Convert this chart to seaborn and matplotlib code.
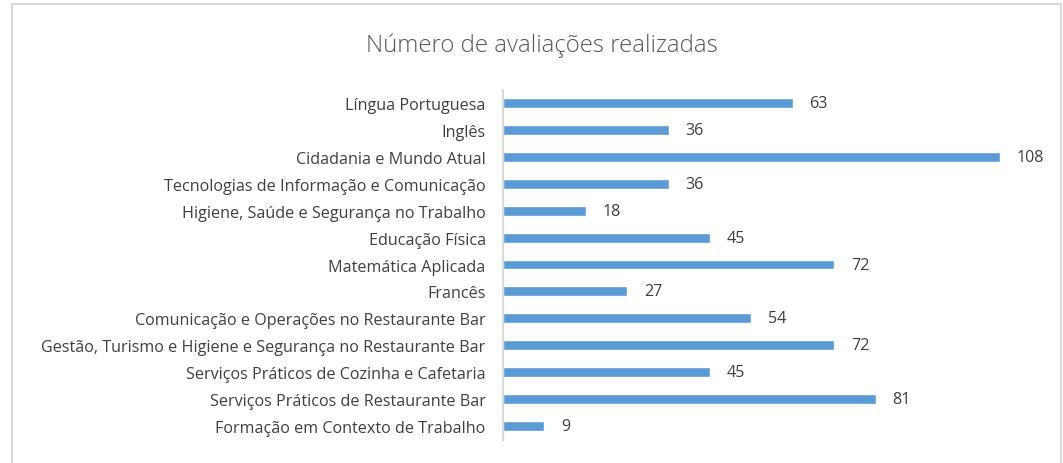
import matplotlib
matplotlib.use("Agg")
import matplotlib.pyplot as plt
from matplotlib.patches import Rectangle
import seaborn as sns
import pandas as pd

disciplinas = [
    "Língua Portuguesa",
    "Inglês",
    "Cidadania e Mundo Atual",
    "Tecnologias de Informação e Comunicação",
    "Higiene, Saúde e Segurança no Trabalho",
    "Educação Física",
    "Matemática Aplicada",
    "Francês",
    "Comunicação e Operações no Restaurante Bar",
    "Gestão, Turismo e Higiene e Segurança no Restaurante Bar",
    "Serviços Práticos de Cozinha e Cafetaria",
    "Serviços Práticos de Restaurante Bar",
    "Formação em Contexto de Trabalho",
]
avaliacoes = [63, 36, 108, 36, 18, 45, 72, 27, 54, 72, 45, 81, 9]

titulo = "Número de avaliações realizadas"

df = pd.DataFrame({"disciplina": disciplinas, "avaliacoes": avaliacoes})

sns.set_style("white")
plt.rcParams["font.family"] = ["Open Sans", "DejaVu Sans"]

W, H = 1063, 464
fig = plt.figure(figsize=(W / 100, H / 100), dpi=100)
ax = fig.add_axes([503 / W, 1 - 440.5 / H, (1055 - 503) / W, (440.5 - 90.5) / H])

sns.barplot(data=df, x="avaliacoes", y="disciplina", orient="h",
            color="#5B9BD5", saturation=1, width=0.37, ax=ax)

ax.set_xlim(0, 120)
ax.set_ylim(len(disciplinas) - 0.5, -0.5)
ax.set_xlabel("")
ax.set_ylabel("")
ax.set_xticks([])
ax.tick_params(axis="y", length=0, pad=12.5, labelsize=11.6, labelcolor="#404040")

for side in ["top", "right", "bottom"]:
    ax.spines[side].set_visible(False)
ax.spines["left"].set_color("#D9D9D9")
ax.spines["left"].set_linewidth(1.5)

for cont in ax.containers:
    ax.bar_label(cont, labels=[str(v) for v in avaliacoes], padding=12,
                 fontsize=11.6, color="#404040")

fig.text(542 / W, 1 - 46 / H, titulo, ha="center", va="center",
         fontsize=17.2, color="#595959", fontweight="light")

# outer chart frame
fig.patches.append(Rectangle((12 / W, -0.05), (1061 - 12) / W, 1.05 - 5 / H,
                             transform=fig.transFigure, fill=False,
                             edgecolor="#D9D9D9", linewidth=1.5))

fig.savefig("out.png", dpi=100)
